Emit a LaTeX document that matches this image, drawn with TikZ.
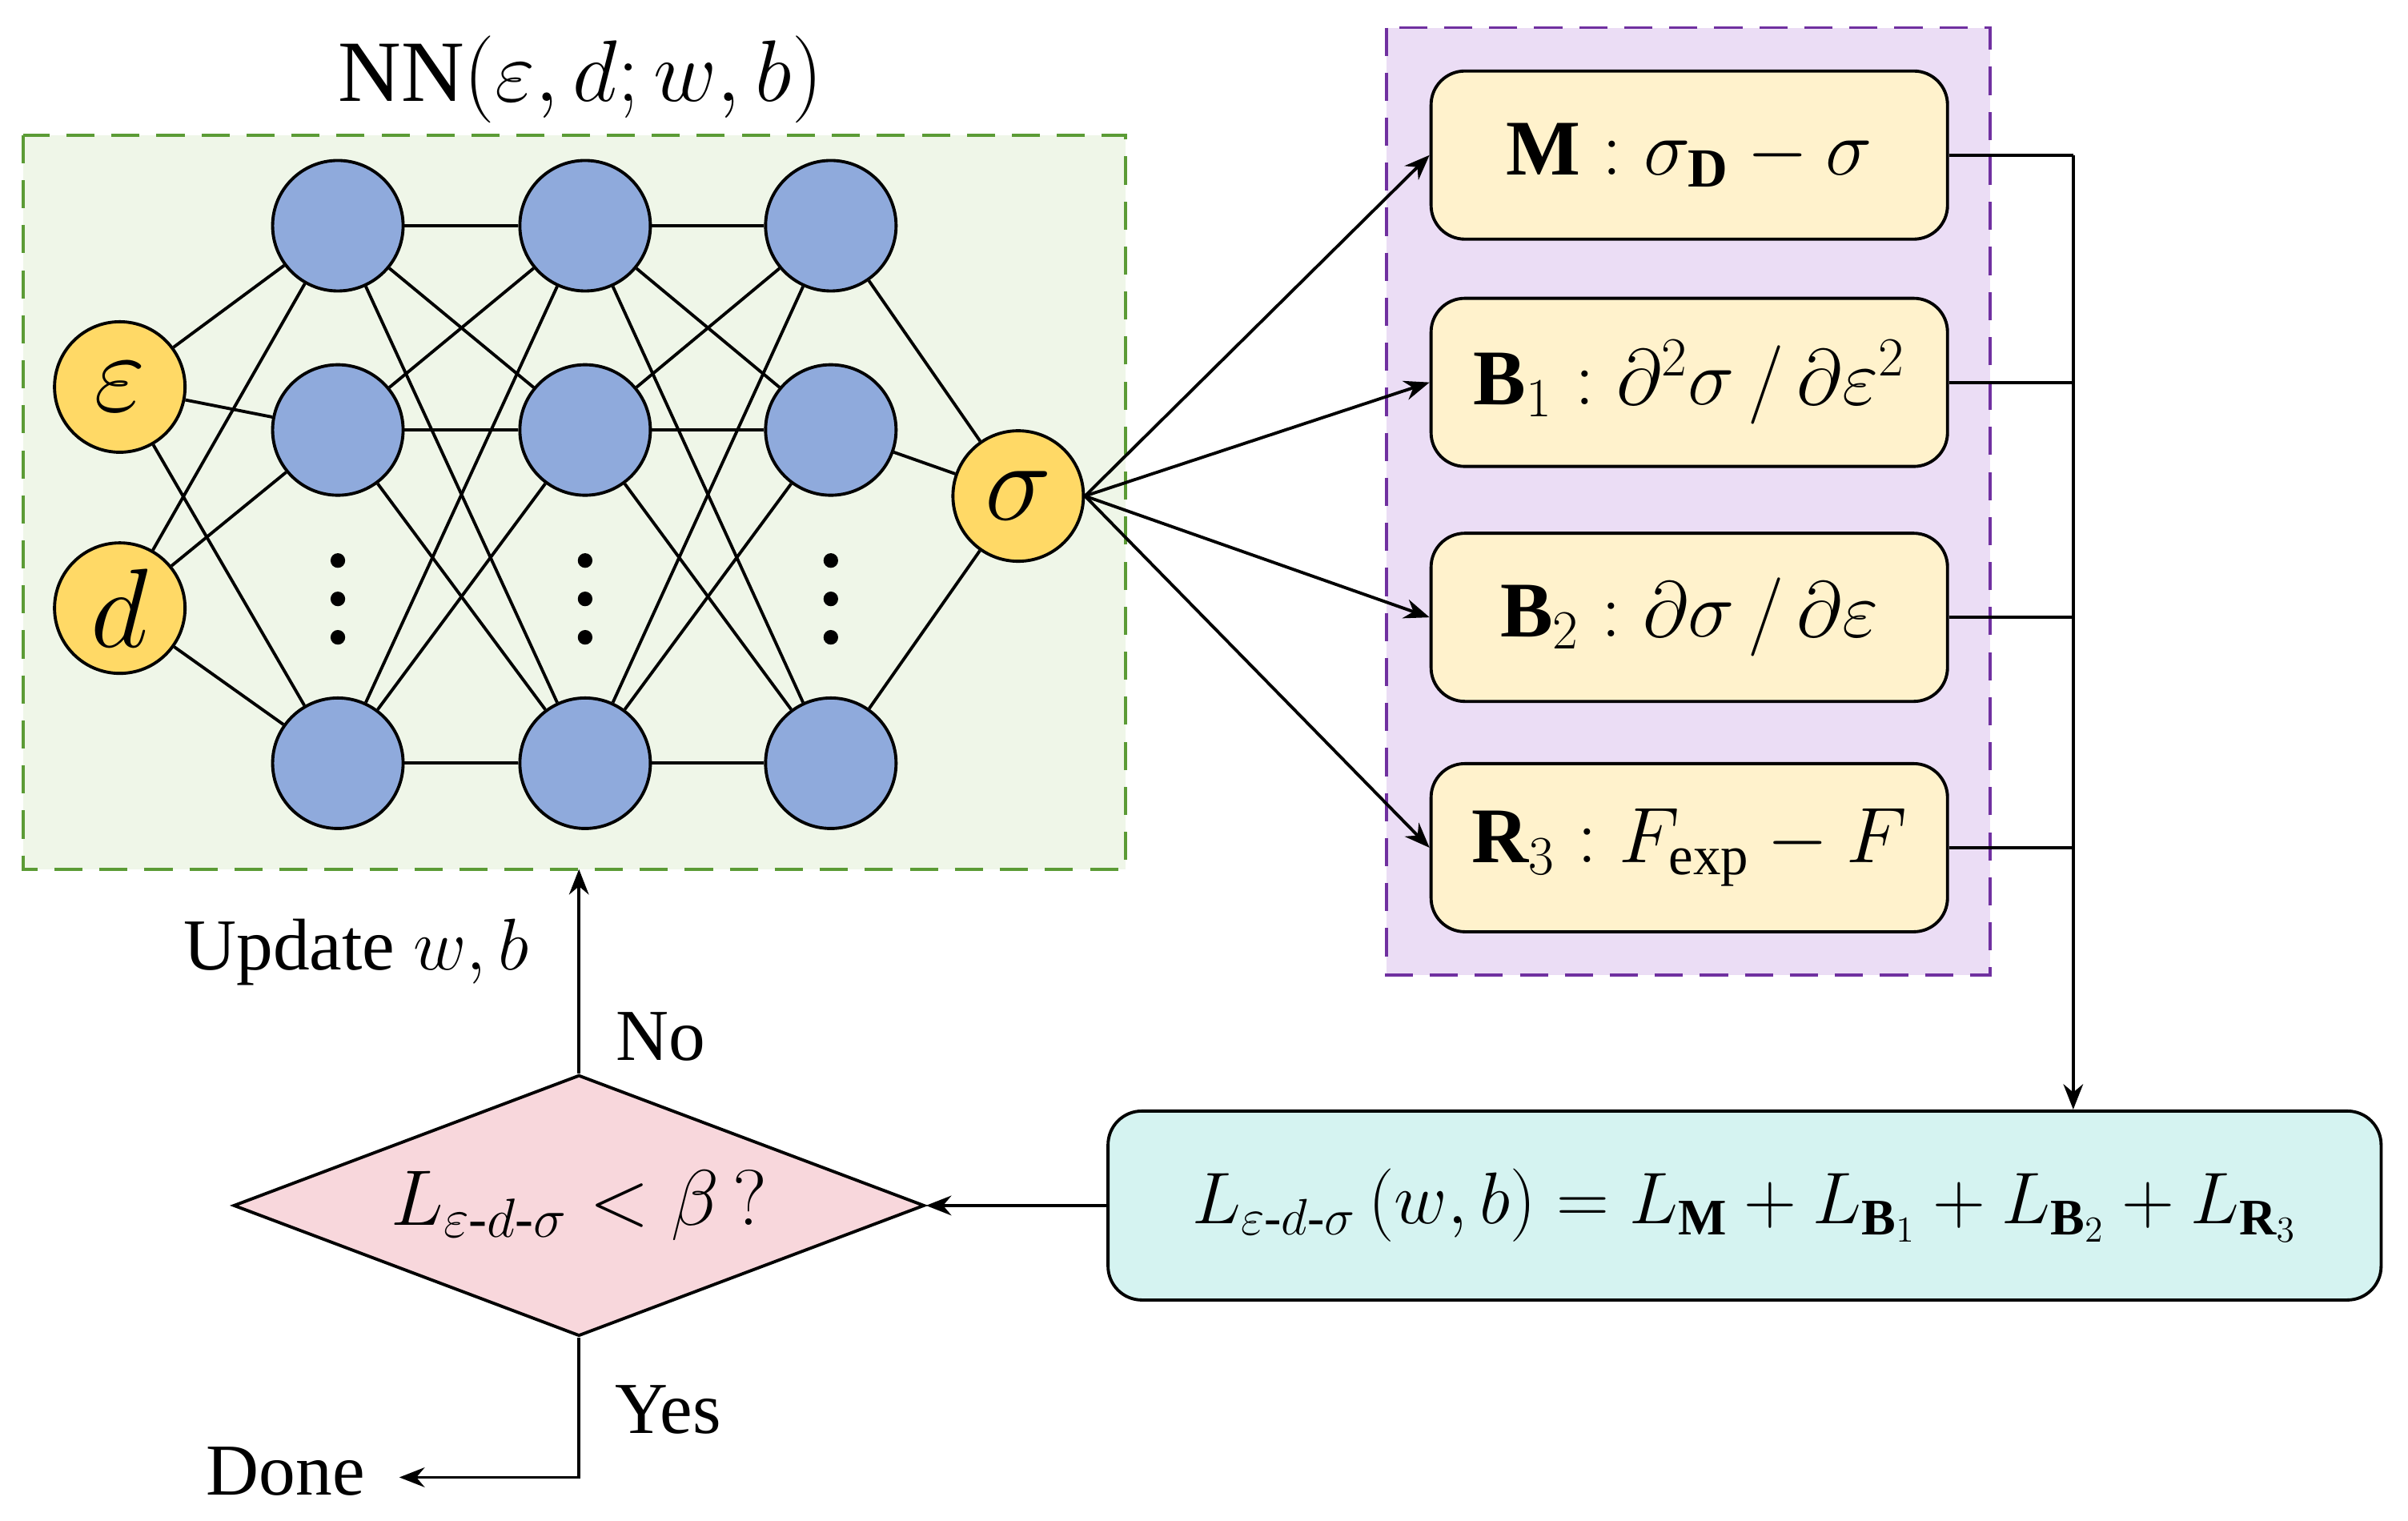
\RequirePackage{fix-cm}
\documentclass[tikz,border=0pt]{standalone}
\usepackage{amsmath}
\usepackage{fontspec}
\setmainfont{Liberation Serif}
\usetikzlibrary{shapes.geometric,arrows.meta}
\definecolor{nnback}{HTML}{EFF6E8}
\definecolor{nnframe}{HTML}{5B9B35}
\definecolor{lossback}{HTML}{EBDDF5}
\definecolor{lossframe}{HTML}{7030A0}
\definecolor{inyellow}{HTML}{FFD966}
\definecolor{hidblue}{HTML}{8FAADC}
\definecolor{termfill}{HTML}{FFF2CC}
\definecolor{sumfill}{HTML}{D5F3F1}
\definecolor{checkfill}{HTML}{F8D7DC}
\begin{document}
\begin{tikzpicture}[x=0.01918cm, y=-0.01918cm, >={Stealth[length=9pt,width=7pt]}, line width=1.1pt,
  font=\fontsize{26}{30}\selectfont]
      \tikzset{
  every neuron/.style={
    circle,
    draw,
    fill=hidblue,
    minimum size=1.63cm
  },
  input neuron/.style={
    every neuron,
    fill=inyellow,
    font=\fontsize{40}{44}\selectfont
  },
  term/.style={
    rectangle,
    rounded corners=12pt,
    draw,
    fill=termfill,
    minimum width=6.45cm,
    minimum height=2.1cm,
    font=\fontsize{28}{32}\selectfont
  }
}
\useasboundingbox (0,0) rectangle (1568,990);

% frames
\draw [dashed, nnframe, fill=nnback, dash pattern=on 10pt off 6pt] (15,88) rectangle (733,566);
\draw [dashed, lossframe, fill=lossback, dash pattern=on 10pt off 6pt] (903,18) rectangle (1296,635);
\node [font=\fontsize{31}{35}\selectfont] (title) at (378,52) {NN$\left(\varepsilon,d;w,b\right)$};

% network
\node [input neuron] (input-1) at (78,252) {$\varepsilon$};
\node [input neuron] (input-2) at (78,396) {$d$};

\foreach \x [count=\l] in {220,381,541}
  \foreach \y [count=\m] in {147,280,497}
    \node [every neuron] (hidden-\l-\m) at (\x,\y) {};

\foreach \x in {220,381,541}
  \foreach \y in {365,390,415}
    \fill (\x,\y) circle (2.6pt);

\node [input neuron] (output) at (663,323) {$\sigma$};

\foreach \i in {1,2}
  \foreach \j in {1,2,3}
    \draw (input-\i) -- (hidden-1-\j);

\foreach \l [count=\k from 2] in {1,2}
  \foreach \i in {1,2,3}
    \foreach \j in {1,2,3}
      \draw (hidden-\l-\i) -- (hidden-\k-\j);

\foreach \i in {1,2,3}
  \draw (hidden-3-\i) -- (output);

% loss terms
\node [term] (term-1) at (1100,101) {$\mathbf{M}:\sigma_{\mathbf{D}}-\sigma$};
\node [term] (term-2) at (1100,249) {$\mathbf{B}_1:\partial^2\sigma\,/\,\partial\varepsilon^2$};
\node [term] (term-3) at (1100,402) {$\mathbf{B}_2:\partial\sigma\,/\,\partial\varepsilon$};
\node [term] (term-4) at (1100,552) {$\mathbf{R}_3:F_{\mathrm{exp}}-F$};

\foreach \i in {1,...,4}
  \draw [->] (output.east) -- (term-\i.west);

\node [term, fill=sumfill, minimum width=15.9cm, minimum height=2.36cm, font=\fontsize{26}{30}\selectfont] (loss) at (1136,785)
  {$L_{\varepsilon\text{-}d\text{-}\sigma}\left(w,b\right)=L_{\mathbf{M}}+L_{\mathbf{B}_1}+L_{\mathbf{B}_2}+L_{\mathbf{R}_3}$};

\coordinate (bus) at (1350,101);
\foreach \i in {1,...,4}
  \draw (term-\i.east) -- (term-\i.east -| bus);
\draw [->] (bus) -- (bus |- loss.north);

% check
\node [diamond, draw, fill=checkfill, aspect=2.65, minimum width=8.63cm, minimum height=3.26cm, inner sep=0pt,
  font=\fontsize{28}{32}\selectfont] (check) at (377,785) {$L_{\varepsilon\text{-}d\text{-}\sigma}<\beta\,?$};
\draw [->] (loss) -- (check);
\draw [->] (check.north) -- (check.north |- 0,566);
\coordinate (done) at (260,962);
\draw [->] (check.south) |- (done);

\node (no) at (430,675) {No};
\node (update) at (232,620) {Update $w,b$};
\node (yes) at (435,918) {Yes};
\node (donelabel) at (186,958) {Done};
      \end{tikzpicture}
\end{document}
